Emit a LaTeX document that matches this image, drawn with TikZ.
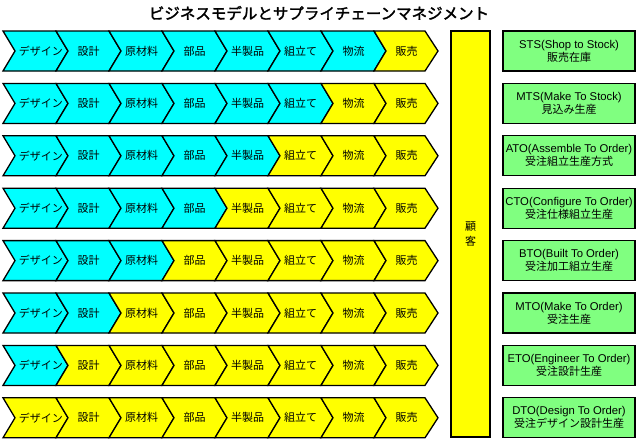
\documentclass[tikz,border=0pt]{standalone}
\usepackage{fontspec}
\newfontfamily\jp{Noto Sans CJK JP}
\newfontfamily\jpb{Noto Sans CJK JP}[FakeBold=2]
\newfontfamily\lat{Liberation Sans}
\definecolor{cy}{RGB}{0,255,255}
\definecolor{yl}{RGB}{255,255,0}
\definecolor{gr}{RGB}{128,255,128}
\begin{document}
\begin{tikzpicture}[x=1pt,y=-1pt,
  chev/.style={draw=black, line width=1.3pt, line join=miter},
  lbl/.style={font=\jp\fontsize{11}{13}\selectfont, inner sep=0pt},
  gbox/.style={draw=black, line width=1.3pt, fill=gr, minimum width=132pt, minimum height=40pt, align=center, inner sep=0pt, font=\fontsize{11}{13}\selectfont},
  cbox/.style={draw=black, line width=1.3pt, fill=yl, minimum width=39pt, minimum height=406pt, align=center, inner sep=0pt, font=\jp\fontsize{11}{14.5}\selectfont},
  ttl/.style={font=\jpb\fontsize{15.5}{17}\selectfont, inner sep=0pt}]
\useasboundingbox (0,0) rectangle (640,442);
\fill[white] (0,0) rectangle (640,442);
\node[ttl] (title) at (319,13) {ビジネスモデルとサプライチェーンマネジメント};
\foreach \r/\nc in {0/7,1/6,2/5,3/4,4/3,5/2,6/1,7/0} {
  \pgfmathsetmacro\yt{31+52.4*\r}
  \foreach \i/\t in {0/デザイン,1/設計,2/原材料,3/部品,4/半製品,5/組立て,6/物流,7/販売} {
    \pgfmathsetmacro\xo{3+53*\i}
    \ifnum\i<\nc\def\fc{cy}\else\def\fc{yl}\fi
    \ifnum\i=7
      \path[chev, fill=\fc] (\xo,\yt) -- ++(51,0) -- ++(13,20) -- ++(-13,20) -- ++(-51,0) -- ++(12,-20) -- cycle;
    \else
      \path[chev, fill=\fc] (\xo,\yt) -- ++(53,0) -- ++(12,20) -- ++(-12,20) -- ++(-53,0) -- ++(12,-20) -- cycle;
    \fi
    \ifnum\i=0
      \node[lbl] (c\r-\i) at (41,\yt+20) {\t};
    \else
      \node[lbl] (c\r-\i) at (\xo+32.5,\yt+20) {\t};
    \fi
  }
}
\node[cbox] (kokyaku) at (470.5,234) {顧\\客};
\foreach \r/\la/\lb in {0/{STS(Shop to Stock)}/販売在庫,
  1/{MTS(Make To Stock)}/見込み生産,
  2/{ATO(Assemble To Order)}/受注組立生産方式,
  3/{CTO(Configure To Order)}/受注仕様組立生産,
  4/{BTO(Built To Order)}/受注加工組立生産,
  5/{MTO(Make To Order)}/受注生産,
  6/{ETO(Engineer To Order)}/受注設計生産,
  7/{DTO(Design To Order)}/受注デザイン設計生産} {
  \pgfmathsetmacro\yc{51+52.4*\r}
  \node[gbox] (g\r) at (569,\yc) {{\lat\fontsize{11.3}{13}\selectfont \la}\\{\jp \lb}};
}
\end{tikzpicture}
\end{document}
